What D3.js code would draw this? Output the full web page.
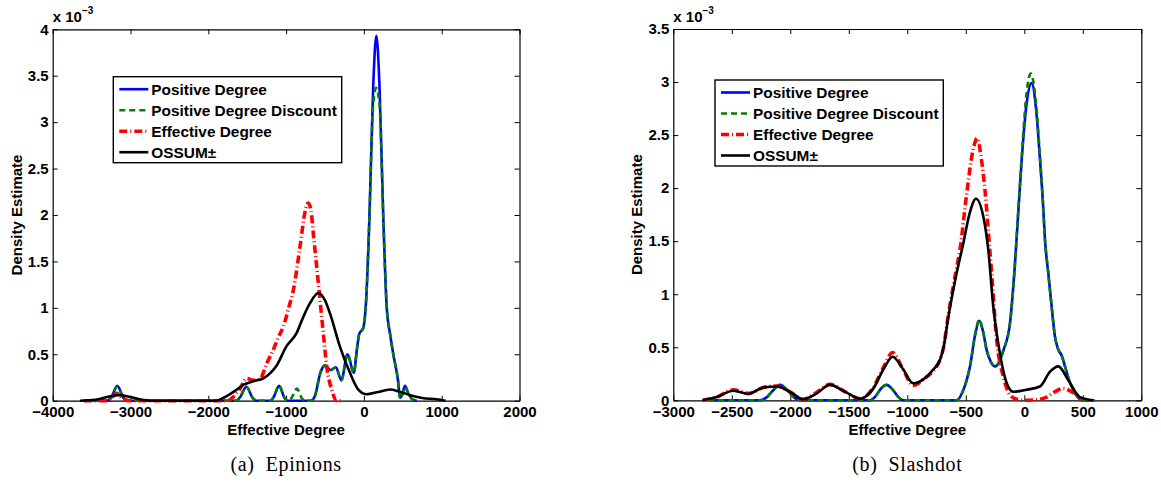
<!DOCTYPE html>
<html>
<head>
<meta charset="utf-8">
<script src="https://cdn.jsdelivr.net/npm/d3@7"></script>
<style>
  body { margin: 0; background: #fff; }
  svg { display: block; }
</style>
</head>
<body>
<div id="chart"></div>
<script>
const legendLabels = ["Positive Degree", "Positive Degree Discount", "Effective Degree", "OSSUM\u00b1"];

// Epinions, density in units of 1e-3
const epinionsXTicks = [-4000, -3000, -2000, -1000, 0, 1000, 2000];
const epinionsYTicks = [0, 0.5, 1, 1.5, 2, 2.5, 3, 3.5, 4];
const epinionsPositive = [[-3400,0],[-3300,0],[-3250,0.03],[-3170,0.16],[-3090,0.03],[-3040,0],
  [-1640,0],[-1590,0.04],[-1510,0.15],[-1430,0.03],[-1380,0],
  [-1200,0],[-1160,0.04],[-1090,0.16],[-1020,0.03],[-980,0],
  [-680,0],[-630,0.05],[-560,0.3],[-500,0.38],[-430,0.33],[-360,0.36],[-290,0.22],[-210,0.5],
  [-130,0.3],[-90,0.55],[-60,0.72],[-10,0.78],[30,1.1],[70,1.95],[120,3.4],[160,3.93],[200,3.4],
  [250,1.95],[293,1.01],[340,0.7],[378,0.5],[438,0.22],[464,0.03],[490,0.06],[528,0.16],[570,0.08],
  [630,0.01],[680,0]];
const epinionsDiscount = [[-3400,0],[-3300,0],[-3250,0.03],[-3170,0.15],[-3090,0.03],[-3040,0],
  [-1640,0],[-1590,0.04],[-1510,0.15],[-1430,0.03],[-1380,0],
  [-1200,0],[-1160,0.04],[-1090,0.16],[-1020,0.03],[-980,0],
  [-930,0.03],[-860,0.13],[-800,0.03],[-760,0],
  [-680,0],[-630,0.05],[-560,0.3],[-500,0.38],[-430,0.33],[-360,0.36],[-290,0.22],[-210,0.5],
  [-130,0.3],[-90,0.55],[-60,0.72],[-10,0.78],[30,1.1],[70,1.95],[120,3.2],[158,3.37],[200,3.2],
  [250,1.95],[293,1.01],[340,0.7],[378,0.5],[438,0.22],[464,0.03],[490,0.06],[528,0.15],[570,0.08],
  [630,0.01],[680,0]];
const epinionsEffective = [[-3600,0],[-3300,0],[-3250,0.02],[-3180,0.08],[-3100,0.02],[-3000,0],
  [-1750,0],[-1680,0.04],[-1600,0.12],[-1506,0.24],[-1421,0.22],[-1330,0.24],[-1250,0.4],
  [-1185,0.51],[-1100,0.68],[-1036,0.8],[-960,1.02],[-907,1.19],[-821,1.66],[-760,2.02],
  [-716,2.13],[-680,2.05],[-650,1.8],[-586,1.27],[-522,0.73],[-478,0.37],[-414,0.12],[-350,0],[-300,0]];
const epinionsOssum = [[-3650,0],[-3450,0.01],[-3300,0.04],[-3150,0.06],[-3000,0.04],[-2850,0.01],
  [-2700,0],[-1900,0],[-1763,0.05],[-1650,0.11],[-1550,0.17],[-1420,0.21],[-1293,0.24],[-1200,0.3],
  [-1121,0.38],[-1000,0.58],[-864,0.73],[-780,0.9],[-693,1.05],[-586,1.16],[-500,1.08],[-436,0.94],
  [-307,0.58],[-179,0.3],[-72,0.12],[36,0.07],[165,0.09],[336,0.12],[450,0.1],[593,0.06],
  [750,0.03],[936,0.015],[1050,0]];

// Slashdot, density in units of 1e-3
const slashdotXTicks = [-3000, -2500, -2000, -1500, -1000, -500, 0, 500, 1000];
const slashdotYTicks = [0, 0.5, 1, 1.5, 2, 2.5, 3, 3.5];
const slashdotPositive = [[-2700,0],[-2260,0],[-2200,0.03],[-2150,0.09],[-2088,0.145],[-2020,0.09],
  [-1960,0.02],[-1917,0],[-1320,0],[-1270,0.04],[-1225,0.11],[-1176,0.145],[-1125,0.1],[-1075,0.03],
  [-1034,0],[-580,0],[-520,0.1],[-464,0.32],[-420,0.62],[-385,0.75],[-355,0.66],[-321,0.47],
  [-285,0.36],[-250,0.32],[-215,0.36],[-179,0.47],[-122,0.73],[-79,1.3],[-50,1.8],[-22,2.27],
  [20,2.8],[63,2.99],[100,2.75],[134,2.27],[160,1.85],[177,1.51],[205,1.2],[234,0.88],[262,0.6],
  [290,0.48],[320,0.42],[348,0.32],[380,0.2],[405,0.13],[450,0.04],[491,0],[600,0]];
const slashdotDiscount = [[-2700,0],[-2260,0],[-2200,0.03],[-2150,0.09],[-2088,0.14],[-2020,0.09],
  [-1960,0.02],[-1917,0],[-1320,0],[-1270,0.04],[-1225,0.11],[-1176,0.145],[-1125,0.1],[-1075,0.03],
  [-1034,0],[-580,0],[-520,0.1],[-464,0.32],[-420,0.62],[-385,0.76],[-355,0.66],[-321,0.47],
  [-285,0.36],[-250,0.32],[-215,0.36],[-179,0.47],[-122,0.73],[-79,1.3],[-50,1.82],[-22,2.3],
  [20,2.9],[55,3.08],[100,2.8],[134,2.3],[160,1.85],[177,1.51],[205,1.2],[234,0.88],[262,0.6],
  [290,0.48],[320,0.42],[348,0.32],[380,0.2],[405,0.13],[450,0.04],[491,0],[600,0]];
const slashdotEffective = [[-2750,0],[-2630,0.03],[-2487,0.1],[-2359,0.065],[-2231,0.12],[-2116,0.135],
  [-2003,0.08],[-1889,0.01],[-1780,0.07],[-1661,0.15],[-1530,0.08],[-1404,0.015],[-1291,0.12],
  [-1200,0.32],[-1125,0.45],[-1040,0.3],[-949,0.14],[-860,0.2],[-778,0.28],[-721,0.38],[-690,0.5],
  [-650,0.8],[-578,1.25],[-550,1.42],[-492,1.95],[-440,2.35],[-402,2.47],[-370,2.3],[-336,1.98],
  [-293,1.39],[-279,1.2],[-236,0.57],[-179,0.22],[-122,0.05],[-65,0.01],[0,0],[100,0.005],
  [191,0.03],[260,0.08],[333,0.11],[419,0.07],[490,0]];
const slashdotOssum = [[-2750,0],[-2629,0.03],[-2487,0.09],[-2359,0.06],[-2231,0.12],[-2116,0.13],
  [-2003,0.08],[-1889,0.01],[-1780,0.06],[-1661,0.145],[-1530,0.08],[-1404,0.015],[-1291,0.11],
  [-1200,0.3],[-1125,0.41],[-1040,0.3],[-949,0.16],[-860,0.2],[-778,0.29],[-721,0.38],[-690,0.5],
  [-650,0.78],[-578,1.2],[-521,1.48],[-470,1.75],[-413,1.9],[-350,1.73],[-308,1.42],[-265,0.88],
  [-208,0.44],[-150,0.16],[-94,0.08],[21,0.1],[134,0.13],[220,0.27],[291,0.32],[376,0.19],
  [476,0.03],[590,0]];

const seriesStyles = [
  { color: "#0000ff", width: 2.6, dash: null },
  { color: "#008000", width: 2.6, dash: "6,4" },
  { color: "#ff0000", width: 3.6, dash: "8,3,1,3" },
  { color: "#000000", width: 2.6, dash: null },
];

const sansFont = "'Liberation Sans', Arial, Helvetica, sans-serif";

const svg = d3
  .select("#chart")
  .append("svg")
  .attr("width", 1161)
  .attr("height", 486)
  .style("background", "#fff");

const drawPanel = (p) => {
  const x = d3.scaleLinear().domain(p.xDomain).range([p.left, p.right]);
  const y = d3.scaleLinear().domain(p.yDomain).range([p.bottom, p.top]);
  const g = svg.append("g");

  const styleAxis = (sel) => {
    sel.attr("font-family", sansFont).attr("font-size", 15).attr("font-weight", "bold");
    sel.selectAll("line").attr("stroke", "#000");
    sel.selectAll("path").attr("stroke", "#000").attr("stroke-width", 1.2);
  };

  g.append("g")
    .attr("transform", `translate(0,${p.bottom})`)
    .call(d3.axisBottom(x).tickValues(p.xTicks).tickSizeInner(-5).tickSizeOuter(0)
      .tickPadding(6).tickFormat(d3.format("d")))
    .call(styleAxis);
  g.append("g")
    .attr("transform", `translate(${p.left},0)`)
    .call(d3.axisLeft(y).tickValues(p.yTicks).tickSizeInner(-5).tickSizeOuter(0)
      .tickPadding(4).tickFormat(d3.format("~g")))
    .call(styleAxis);
  g.append("g")
    .attr("transform", `translate(0,${p.top})`)
    .call(d3.axisTop(x).tickValues(p.xTicks).tickSizeInner(-5).tickSizeOuter(0).tickFormat(""))
    .call(styleAxis);
  g.append("g")
    .attr("transform", `translate(${p.right},0)`)
    .call(d3.axisRight(y).tickValues(p.yTicks).tickSizeInner(-5).tickSizeOuter(0).tickFormat(""))
    .call(styleAxis);

  const line = d3
    .line()
    .x((d) => x(d[0]))
    .y((d) => y(d[1]))
    .curve(d3.curveMonotoneX);

  p.series.forEach((s, i) => {
    const st = seriesStyles[i];
    g.append("path")
      .datum(s)
      .attr("d", line)
      .attr("fill", "none")
      .attr("stroke", st.color)
      .attr("stroke-width", st.width)
      .attr("stroke-linejoin", "round")
      .attr("stroke-dasharray", st.dash);
  });

  // exponent label
  const mult = g.append("text")
    .attr("x", p.left)
    .attr("y", p.top - 7)
    .attr("font-family", sansFont)
    .attr("font-weight", "bold")
    .attr("font-size", 15)
    .text("x 10");
  mult.append("tspan")
    .attr("font-size", 10)
    .attr("dy", -8)
    .text("\u22123");

  // axis titles
  g.append("text")
    .attr("x", (p.left + p.right) / 2)
    .attr("y", 435)
    .attr("text-anchor", "middle")
    .attr("font-family", sansFont)
    .attr("font-weight", "bold")
    .attr("font-size", 15)
    .text("Effective Degree");
  g.append("text")
    .attr("transform", `translate(${p.left - 31},${(p.top + p.bottom) / 2}) rotate(-90)`)
    .attr("text-anchor", "middle")
    .attr("font-family", sansFont)
    .attr("font-weight", "bold")
    .attr("font-size", 15)
    .text("Density Estimate");

  // caption
  g.append("text")
    .attr("x", (p.left + p.right) / 2)
    .attr("y", 471)
    .attr("text-anchor", "middle")
    .attr("font-family", "'Liberation Serif', 'Times New Roman', serif")
    .attr("font-size", 20)
    .attr("letter-spacing", 0.6)
    .style("white-space", "pre")
    .text(p.caption);

  // legend
  const lg = g.append("g").attr("transform", `translate(${p.legend[0]},${p.legend[1]})`);
  lg.append("rect")
    .attr("width", p.legend[2])
    .attr("height", 86)
    .attr("fill", "#fff")
    .attr("stroke", "#000")
    .attr("stroke-width", 1.4);
  legendLabels.forEach((label, i) => {
    const st = seriesStyles[i];
    const ly = 12.5 + i * 21;
    lg.append("line")
      .attr("x1", 6)
      .attr("x2", 35)
      .attr("y1", ly)
      .attr("y2", ly)
      .attr("stroke", st.color)
      .attr("stroke-width", st.width)
      .attr("stroke-dasharray", st.dash);
    lg.append("text")
      .attr("x", 38)
      .attr("y", ly + 5.5)
      .attr("font-family", sansFont)
      .attr("font-weight", "bold")
      .attr("font-size", 15.4)
      .text(label);
  });
};

drawPanel({
  left: 52.7, right: 519.5, top: 29.3, bottom: 400.7,
  xDomain: [-4000, 2000], yDomain: [0, 4],
  xTicks: epinionsXTicks, yTicks: epinionsYTicks,
  series: [epinionsPositive, epinionsDiscount, epinionsEffective, epinionsOssum],
  legend: [113.3, 76.7, 228.4],
  caption: "(a)  Epinions",
});

drawPanel({
  left: 673.3, right: 1141.3, top: 29, bottom: 400.3,
  xDomain: [-3000, 1000], yDomain: [0, 3.5],
  xTicks: slashdotXTicks, yTicks: slashdotYTicks,
  series: [slashdotPositive, slashdotDiscount, slashdotEffective, slashdotOssum],
  legend: [715, 80, 228.3],
  caption: "(b)  Slashdot",
});
</script>
</body>
</html>
